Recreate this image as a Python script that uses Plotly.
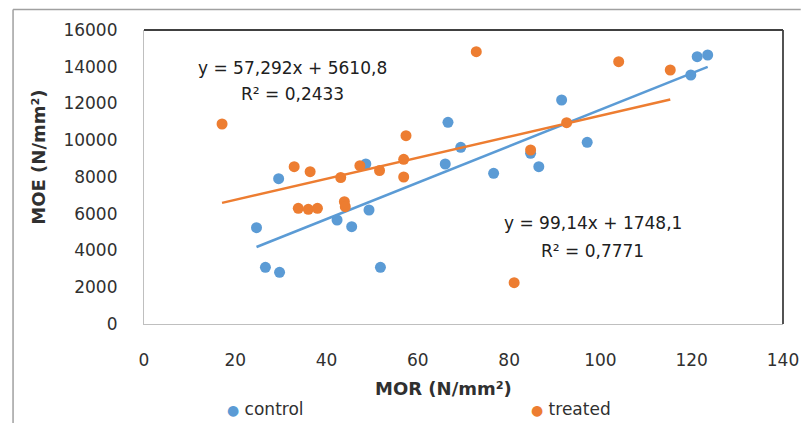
import plotly.graph_objects as go

# ---- data ----
control_mor = [24.65, 26.6, 29.7, 29.5, 42.3, 45.5, 48.6, 49.3, 51.8, 66.0,
               66.6, 69.4, 76.6, 84.7, 86.5, 91.5, 97.1, 119.8, 121.2, 123.5]
control_moe = [5241, 3086, 2814, 7907, 5660, 5295, 8707, 6204, 3086, 8707,
               10977, 9616, 8201, 9290, 8561, 12190, 9889, 13551, 14547, 14639]

treated_mor = [17.1, 32.9, 36.4, 33.8, 36.0, 38.0, 43.1, 43.9, 44.1, 47.3,
               51.6, 56.9, 56.9, 57.4, 72.8, 81.1, 84.7, 92.6, 104.0, 115.3]
treated_moe = [10884, 8561, 8288, 6297, 6242, 6297, 7973, 6656, 6384, 8615,
               8354, 8963, 8000, 10248, 14819, 2248, 9469, 10955, 14275, 13823]

series_names = ["control", "treated"]
trend_slopes = [99.14, 57.292]
trend_intercepts = [1748.1, 5610.8]
trend_eq_text = ["y = 99,14x + 1748,1", "y = 57,292x + 5610,8"]
trend_r2_text = ["R² = 0,7771", "R² = 0,2433"]

x_ticks = [0, 20, 40, 60, 80, 100, 120, 140]
y_ticks = [0, 2000, 4000, 6000, 8000, 10000, 12000, 14000, 16000]
x_tick_labels = ["0", "20", "40", "60", "80", "100", "120", "140"]
y_tick_labels = ["0", "2000", "4000", "6000", "8000", "10000", "12000", "14000", "16000"]

BLUE = "#5B9BD5"
ORANGE = "#ED7D31"
FONT = "DejaVu Sans"
TXT = "#303030"

W, H = 811, 423
L, R, T, B = 144, 18, 30, 99
PW, PH = W - L - R, H - T - B


def px(x):
    return (x - L) / PW


def py(y):
    return (H - B - y) / PH


fig = go.Figure()

for xs, ys, color, name, m, b in [
    (control_mor, control_moe, BLUE, series_names[0], trend_slopes[0], trend_intercepts[0]),
    (treated_mor, treated_moe, ORANGE, series_names[1], trend_slopes[1], trend_intercepts[1]),
]:
    fig.add_trace(go.Scatter(x=xs, y=ys, mode="markers", name=name,
                             marker=dict(color=color, size=11), showlegend=False))
    x0, x1 = min(xs), max(xs)
    fig.add_trace(go.Scatter(x=[x0, x1], y=[m * x0 + b, m * x1 + b], mode="lines",
                             line=dict(color=color, width=2.5), showlegend=False,
                             hoverinfo="skip"))

fig.update_layout(
    width=W, height=H,
    margin=dict(l=L, r=R, t=T, b=B),
    paper_bgcolor="white", plot_bgcolor="white",
    font=dict(family=FONT, size=17, color=TXT),
    showlegend=False,
)
fig.update_xaxes(range=[0, 140], tickvals=x_ticks, ticktext=x_tick_labels,
                 showgrid=False, zeroline=False,
                 showline=True, linecolor="#BFBFBF", linewidth=1.2, ticks="",
                 ticklabelstandoff=20, tickfont=dict(size=17, color=TXT))
fig.update_yaxes(range=[0, 16000], tickvals=y_ticks, ticktext=y_tick_labels,
                 showgrid=False, zeroline=False,
                 showline=True, linecolor="#BFBFBF", linewidth=1.2, ticks="",
                 ticklabelstandoff=22, tickfont=dict(size=17, color=TXT))

shapes = [
    dict(type="line", xref="paper", yref="paper", x0=0, x1=1, y0=1, y1=1,
         line=dict(color="#404040", width=1.8)),
    dict(type="line", xref="paper", yref="paper", x0=1, x1=1, y0=0, y1=1,
         line=dict(color="#404040", width=1.8)),
    dict(type="line", xref="paper", yref="paper", x0=px(11), x1=px(811), y0=py(9.5), y1=py(9.5),
         line=dict(color="#A0A0A0", width=1.5)),
    dict(type="line", xref="paper", yref="paper", x0=px(11), x1=px(11), y0=py(9.5), y1=py(423),
         line=dict(color="#A0A0A0", width=1.5)),
]
fig.update_layout(shapes=shapes)

ann = []
# trendline equations
ann.append(dict(x=px(294.5), y=py(68), text=trend_eq_text[1]))
ann.append(dict(x=px(294.5), y=py(94), text=trend_r2_text[1]))
ann.append(dict(x=px(600), y=py(223), text=trend_eq_text[0]))
ann.append(dict(x=px(600), y=py(251), text=trend_r2_text[0]))
for a in ann:
    a.update(xref="paper", yref="paper", showarrow=False, xanchor="center", yanchor="middle",
             font=dict(family=FONT, size=17, color="#202020"))

# axis titles
ann.append(dict(x=px(36), y=py(157), xref="paper", yref="paper", showarrow=False,
                text="<b>MOE (N/mm²)</b>", textangle=-90, xanchor="center", yanchor="middle",
                font=dict(family=FONT, size=18, color=TXT)))
ann.append(dict(x=px(448), y=py(388), xref="paper", yref="paper", showarrow=False,
                text="<b>MOR (N/mm²)</b>", xanchor="center", yanchor="middle",
                font=dict(family=FONT, size=18, color=TXT)))

# legend
for name, color, xl in [(series_names[0], BLUE, 226), (series_names[1], ORANGE, 535)]:
    ann.append(dict(x=px(xl), y=py(409), xref="paper", yref="paper", showarrow=False,
                    text=f"<span style='color:{color};font-size:14px'>●</span> {name}",
                    xanchor="left", yanchor="middle",
                    font=dict(family=FONT, size=17, color=TXT)))

fig.update_layout(annotations=ann)

fig.write_html("out.html")
